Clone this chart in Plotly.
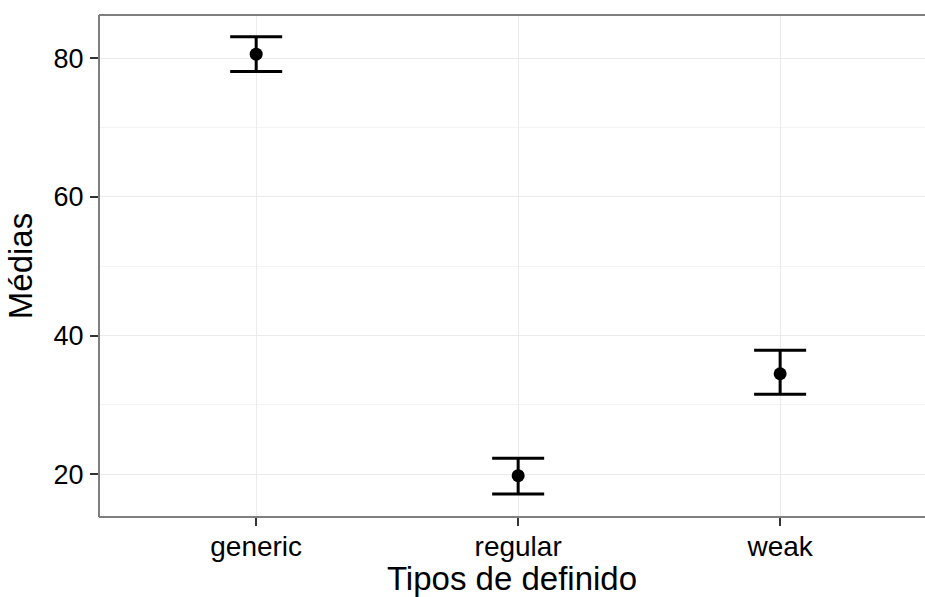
import plotly.graph_objects as go

categories = ["generic", "regular", "weak"]
means = [80.6, 19.8, 34.5]
upper = [83.1, 22.3, 37.9]
lower = [78.1, 17.15, 31.55]

err_plus = [u - m for u, m in zip(upper, means)]
err_minus = [m - l for m, l in zip(means, lower)]

FONT = "Liberation Sans, Arial, Helvetica, sans-serif"

fig = go.Figure()
fig.add_trace(go.Scatter(
    x=categories, y=means, mode="markers",
    marker=dict(color="black", size=13),
    error_y=dict(type="data", symmetric=False, array=err_plus, arrayminus=err_minus,
                 color="black", thickness=3, width=26),
    showlegend=False,
))

fig.update_layout(
    width=925, height=597,
    margin=dict(l=99, r=0, t=15, b=80),
    paper_bgcolor="white", plot_bgcolor="white",
    font=dict(family=FONT, color="black"),
    xaxis=dict(
        type="category", range=[-0.6, 2.553], automargin=False,
        showgrid=True, gridcolor="#EBEBEB", gridwidth=1,
        ticks="outside", ticklen=8, tickwidth=2, tickcolor="#333333",
        tickfont=dict(size=28, color="black"), ticklabelstandoff=-4,
        title=dict(text="Tipos de definido", font=dict(size=33), standoff=14),
        zeroline=False, showline=False,
    ),
    yaxis=dict(
        range=[13.84, 86.25], tick0=0, dtick=20, automargin=False,
        showgrid=True, gridcolor="#EBEBEB", gridwidth=1,
        minor=dict(dtick=10, showgrid=True, gridcolor="#F4F4F4", gridwidth=1, ticks=""),
        ticks="outside", ticklen=8, tickwidth=2, tickcolor="#333333",
        tickfont=dict(size=27, color="black"), ticklabelstandoff=1,
        title=dict(text="Médias", font=dict(size=33), standoff=11),
        zeroline=False, showline=False,
    ),
    shapes=[
        dict(type="line", xref="paper", yref="paper", x0=0, x1=1.05, y0=1, y1=1,
             line=dict(color="#7F7F7F", width=2), layer="above"),
        dict(type="line", xref="paper", yref="paper", x0=0, x1=1.05, y0=0, y1=0,
             line=dict(color="#7F7F7F", width=2), layer="above"),
        dict(type="line", xref="paper", yref="paper", x0=0, x1=0, y0=0, y1=1,
             line=dict(color="#7F7F7F", width=2), layer="above"),
    ],
)

fig.write_html(
    "out.html",
    config={"displayModeBar": False},
    post_script="document.body.style.margin='0';document.body.style.overflow='hidden';",
)
